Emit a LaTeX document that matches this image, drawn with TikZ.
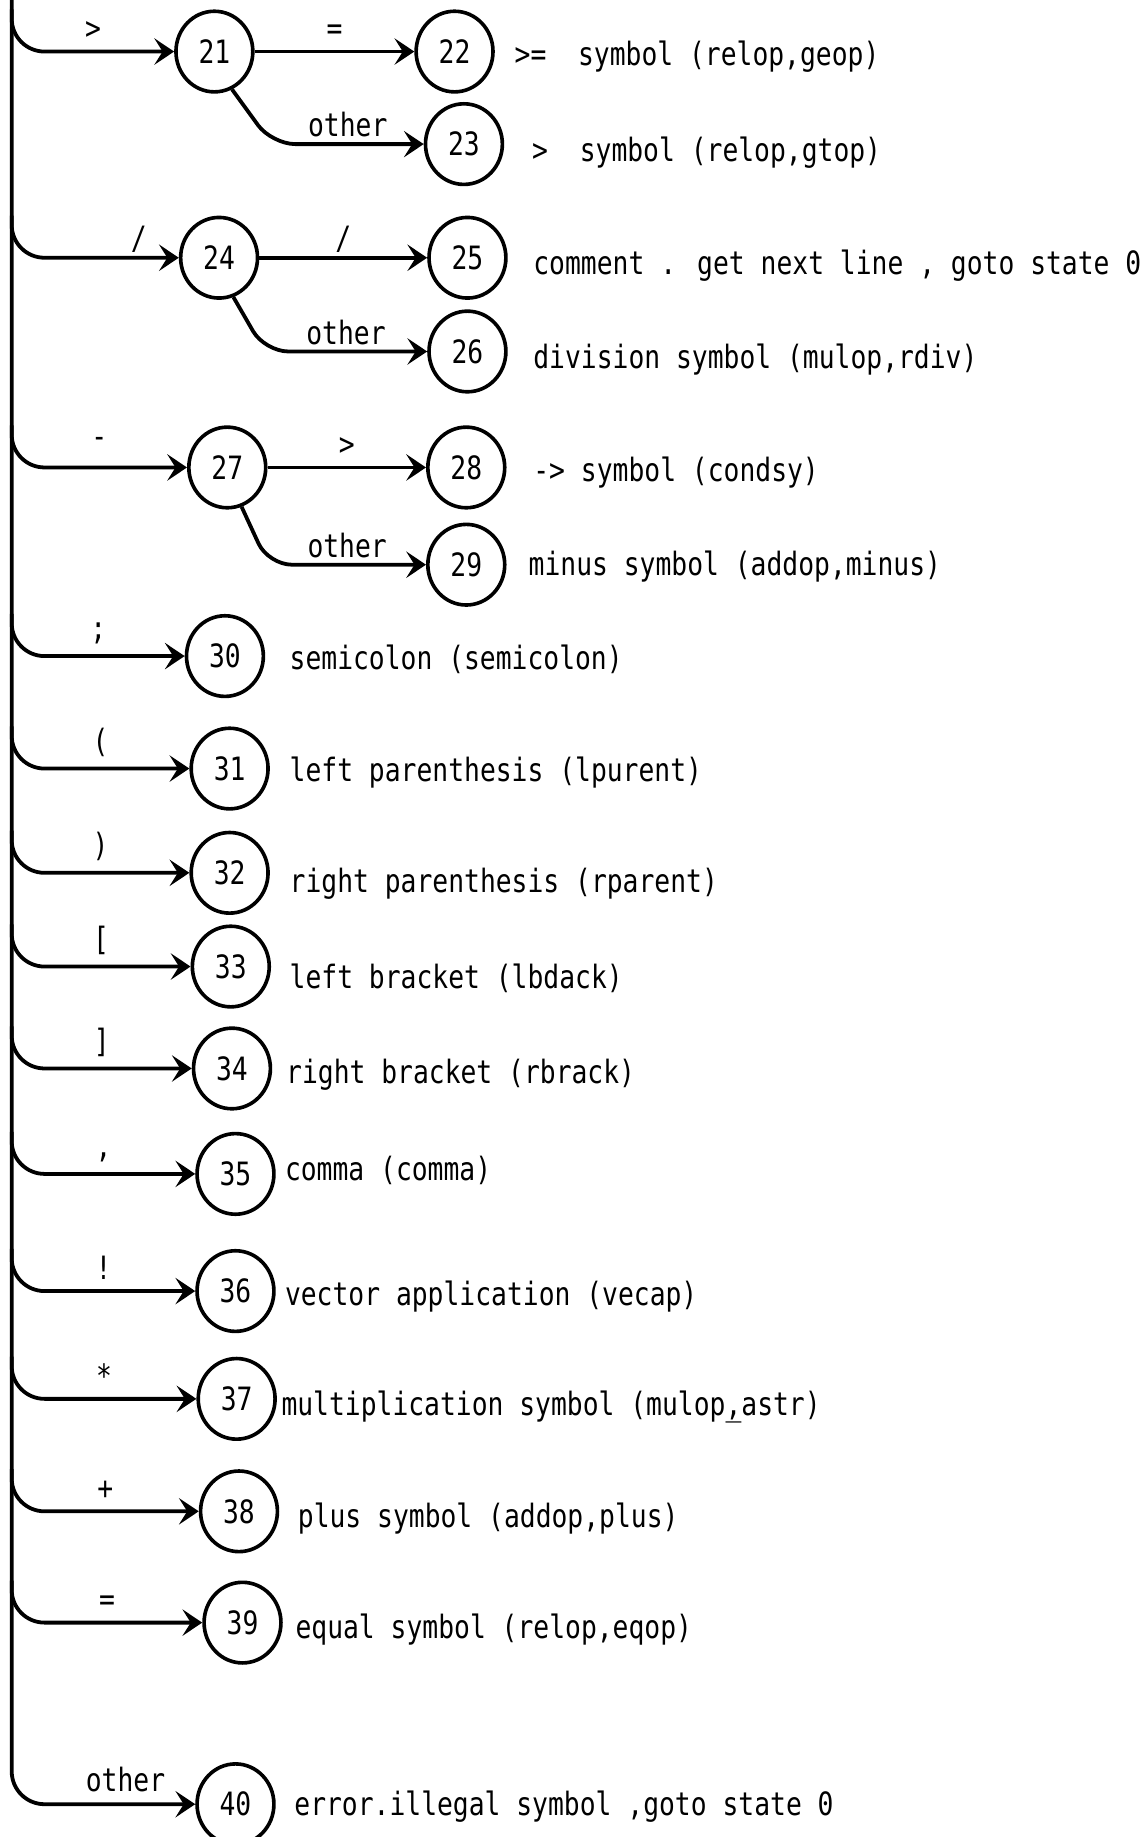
\documentclass[tikz,border=0pt]{standalone}
\usepackage{fontspec}
\newfontfamily\typer[FakeStretch=0.82]{DejaVu Sans Mono}
\usetikzlibrary{positioning, arrows.meta, shapes.geometric}

\begin{document}
\begin{tikzpicture}[
        x=0.025cm, y=-0.025cm,
        font=\typer\fontsize{19.5pt}{22pt}\selectfont,
        stnode/.style={
            draw,
            ellipse,
            line width=2.2pt,
            minimum width=1.64cm,
            minimum height=1.72cm,
            inner sep=0pt
        },
        desc/.style={anchor=west, inner sep=0pt},
        lbl/.style={inner sep=1pt, above=5pt},
        flow/.style={-{Stealth[length=12pt, width=16pt, inset=5pt]}, line width=2.3pt, rounded corners=0.7cm}
    ]

        \path[use as bounding box, fill=white] (0,0) rectangle (979,1568);

        % trunk of the scanner
        \coordinate (top) at (10,0);

        % states
        \node[stnode] (s21) at (183,44) {21};
        \node[stnode] (s22) at (388,44) {22};
        \node[stnode] (s23) at (396,123) {23};
        \node[stnode] (s24) at (187,220) {24};
        \node[stnode] (s25) at (399,220) {25};
        \node[stnode] (s26) at (399,300) {26};
        \node[stnode] (s27) at (194,399) {27};
        \node[stnode] (s28) at (398,399) {28};
        \node[stnode] (s29) at (398,482) {29};
        \node[stnode] (s30) at (192,560) {30};
        \node[stnode] (s31) at (196,656) {31};
        \node[stnode] (s32) at (196,745) {32};
        \node[stnode] (s33) at (197,825) {33};
        \node[stnode] (s34) at (198,912) {34};
        \node[stnode] (s35) at (201,1002) {35};
        \node[stnode] (s36) at (201,1102) {36};
        \node[stnode] (s37) at (202,1194) {37};
        \node[stnode] (s38) at (204,1290) {38};
        \node[stnode] (s39) at (207,1385) {39};
        \node[stnode] (s40) at (201,1540) {40};

        % what each final state returns
        \node[desc] (d22) at (439,48) {>=~~symbol (relop,geop)};
        \node[desc] (d23) at (454,130) {>~~symbol (relop,gtop)};
        \node[desc] (d25) at (455,227) {comment . get next line , goto state 0};
        \node[desc] (d26) at (455,307) {division symbol (mulop,rdiv)};
        \node[desc] (d28) at (455,403) {-> symbol (condsy)};
        \node[desc] (d29) at (451,484) {minus symbol (addop,minus)};
        \node[desc] (d30) at (247,563) {semicolon (semicolon)};
        \node[desc] (d31) at (247,659) {left parenthesis (lpurent)};
        \node[desc] (d32) at (247,754) {right parenthesis (rparent)};
        \node[desc] (d33) at (247,835) {left bracket (lbdack)};
        \node[desc] (d34) at (244,917) {right bracket (rbrack)};
        \node[desc] (d35) at (243,999) {comma (comma)};
        \node[desc] (d36) at (243,1107) {vector application (vecap)};
        \node[desc] (d37) at (240,1201) {multiplication symbol (mulop\rlap{\_},astr)};
        \node[desc] (d38) at (254,1296) {plus symbol (addop,plus)};
        \node[desc] (d39) at (252,1391) {equal symbol (relop,eqop)};
        \node[desc] (d40) at (251,1542) {error.illegal symbol ,goto state 0};

        % bends for the "other" exits
        \coordinate (k23) at (232,123);
        \coordinate (k26) at (226,300);
        \coordinate (k29) at (229,482);

        % trunk and the last branch
        \draw[flow] (top) |- node[lbl, pos=0.81] (l40) {other} (s40);

        \draw[flow] (top |- s21.north) |- node[lbl, pos=0.75] (l21) {>} (s21);
        \draw[flow] (s21) -- node[lbl] (l22) {=} (s22);
        \draw[flow, rounded corners=0.5cm] (s21.-65) -- (k23) -- node[lbl, above=2pt] (l23) {other} (s23);

        \draw[flow] (top |- s24.north) |- node[lbl, pos=0.88, above=1pt] (l24) {/} (s24);
        \draw[flow] (s24) -- node[lbl, above=1pt] (l25) {/} (s25);
        \draw[flow, rounded corners=0.5cm] (s24.-70) -- (k26) -- node[lbl, above=2pt] (l26) {other} (s26);

        \draw[flow] (top |- s27.north) |- node[lbl, pos=0.75, above=10pt] (l27) {-} (s27);
        \draw[flow] (s27) -- node[lbl] (l28) {>} (s28);
        \draw[flow, rounded corners=0.5cm] (s27.-70) -- (k29) -- node[lbl, above=2pt] (l29) {other} (s29);

        \draw[flow] (top |- s30.north) |- node[lbl, pos=0.75] (l30) {;} (s30);
        \draw[flow] (top |- s31.north) |- node[lbl, pos=0.75] (l31) {(} (s31);
        \draw[flow] (top |- s32.north) |- node[lbl, pos=0.75] (l32) {)} (s32);
        \draw[flow] (top |- s33.north) |- node[lbl, pos=0.75] (l33) {[} (s33);
        \draw[flow] (top |- s34.north) |- node[lbl, pos=0.75] (l34) {]} (s34);
        \draw[flow] (top |- s35.north) |- node[lbl, pos=0.75] (l35) {,} (s35);
        \draw[flow] (top |- s36.north) |- node[lbl, pos=0.75] (l36) {!} (s36);
        \draw[flow] (top |- s37.north) |- node[lbl, pos=0.75] (l37) {*} (s37);
        \draw[flow] (top |- s38.north) |- node[lbl, pos=0.75] (l38) {+} (s38);
        \draw[flow] (top |- s39.north) |- node[lbl, pos=0.75] (l39) {=} (s39);

    \end{tikzpicture}
\end{document}
